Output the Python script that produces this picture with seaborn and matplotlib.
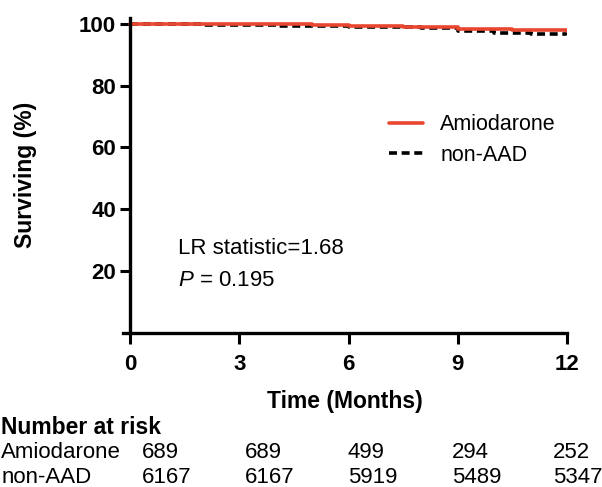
import numpy as np
import pandas as pd
import seaborn as sns
import matplotlib.pyplot as plt

# survival curves
amio_time = [0, 3.2, 5.0, 6.0, 7.5, 9.0, 10.5, 12]
amio_surv = [100, 99.8, 99.6, 99.2, 99.0, 98.4, 98.0, 97.6]
naad_time = [0, 2.0, 4.0, 6.0, 8.0, 9.0, 10.0, 11.0, 12]
naad_surv = [100, 99.7, 99.3, 98.9, 98.5, 97.6, 97.1, 96.8, 96.5]

groups = ["Amiodarone", "non-AAD"]
colors = ["#E8472F", "#000000"]
risk_times = [0, 3, 6, 9, 12]
risk_amio = [689, 689, 499, 294, 252]
risk_naad = [6167, 6167, 5919, 5489, 5347]

df = pd.concat([
    pd.DataFrame({"time": amio_time, "surv": amio_surv, "group": groups[0]}),
    pd.DataFrame({"time": naad_time, "surv": naad_surv, "group": groups[1]}),
])

sns.set_style("ticks")
plt.rcParams['font.family'] = ['Liberation Sans', 'DejaVu Sans']
plt.rcParams['mathtext.fontset'] = 'custom'
plt.rcParams['mathtext.it'] = 'Liberation Sans:italic'
plt.rcParams['mathtext.rm'] = 'Liberation Sans'
for k in ['text.color', 'axes.labelcolor', 'xtick.color', 'ytick.color', 'axes.edgecolor']:
    plt.rcParams[k] = 'black'

fig = plt.figure(figsize=(6.02, 4.87), dpi=100)
ax = fig.add_axes([0.204, 0.316, 0.738, 0.648])

sns.lineplot(data=df[df.group == groups[1]], x="time", y="surv", color=colors[1],
             estimator=None, drawstyle="steps-post", lw=2.6, ax=ax,
             dashes=False, linestyle=(0, (2.2, 1.3)), label=groups[1])
sns.lineplot(data=df[df.group == groups[0]], x="time", y="surv", color=colors[0],
             estimator=None, drawstyle="steps-post", lw=2.6, ax=ax, label=groups[0])

ax.set_xlim(-0.2, 12)
ax.set_ylim(0, 102)
ax.set_xticks(risk_times)
ax.set_yticks([20, 40, 60, 80, 100])
ax.spines['left'].set_position(('data', 0))
sns.despine(ax=ax)
for s in ['left', 'bottom']:
    ax.spines[s].set_linewidth(2.4)
ax.tick_params(width=2.2, length=7, labelsize=16, pad=3)
ax.tick_params(axis='x', length=8, pad=7)
for lab in ax.get_xticklabels() + ax.get_yticklabels():
    lab.set_fontweight('bold')
ax.set_xlabel("Time (Months)", fontsize=16.5, fontweight='bold', labelpad=11)
ax.set_ylabel("Surviving (%)", fontsize=16.5, fontweight='bold', labelpad=30)

h, l = ax.get_legend_handles_labels()
ax.legend(h[::-1], l[::-1], loc='upper left', bbox_to_anchor=(0.555, 0.755),
          frameon=False, fontsize=15.5, handlelength=1.6, labelspacing=0.45)

ax.text(0.125, 0.25, "LR statistic=1.68", transform=ax.transAxes, fontsize=16)
ax.text(0.125, 0.15, "$P$ = 0.195", transform=ax.transAxes, fontsize=16)

# number at risk table
fig.text(0.002, 0.109, "Number at risk", fontsize=16.5, fontweight='bold')
fig.text(0.002, 0.060, groups[0], fontsize=16)
fig.text(0.002, 0.009, groups[1], fontsize=16)
col_x = np.array([142, 245, 348, 452, 553]) / 602
for x, a, n in zip(col_x, risk_amio, risk_naad):
    fig.text(x, 0.060, str(a), fontsize=16)
    fig.text(x, 0.009, str(n), fontsize=16)

fig.savefig("out.png", dpi=100)
